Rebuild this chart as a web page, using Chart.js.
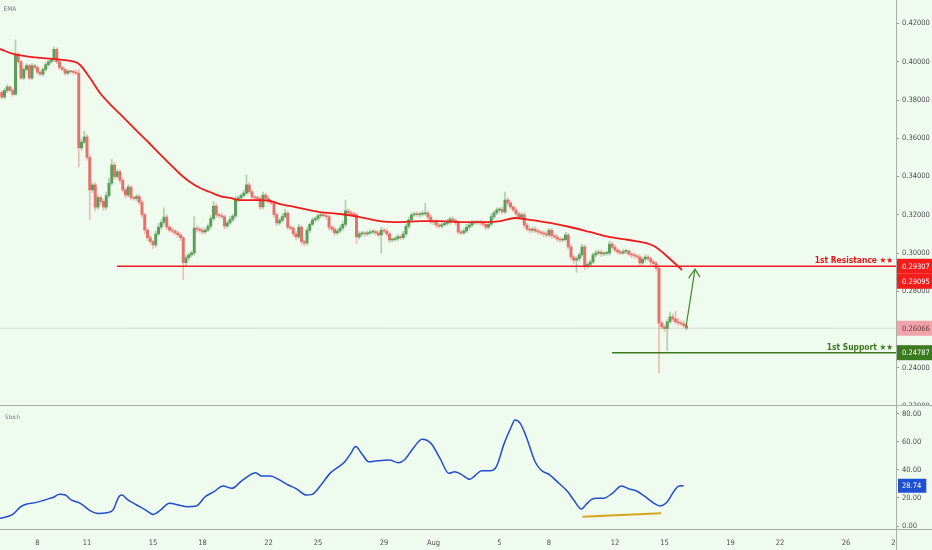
<!DOCTYPE html>
<html>
<head>
<meta charset="utf-8">
<script src="https://cdn.jsdelivr.net/npm/chart.js@4.4.1/dist/chart.umd.min.js"></script>
<style>
	html, body { margin: 0; padding: 0; background: #f0fbf0; }
	#wrap { position: relative; width: 932px; height: 550px; overflow: hidden; }
	#main { position: absolute; left: 0; top: 0; }
	#osc { position: absolute; left: 0; top: 406px; }
</style>
</head>
<body>
<div id="wrap">
	<canvas id="main" width="932" height="406"></canvas>
	<canvas id="osc" width="932" height="144"></canvas>
</div>
<script>
// time is counted in days of July (1 Aug = 32), bars are 4h
const barStart = 5 + 20 / 24;
const barHours = 4;
const firstOpen = 0.3840;

const closes = [
	0.3815,0.3850,0.3868,0.3850,0.3830,0.4040,0.4000,0.3915,0.3960,0.3980,
	0.3915,0.3980,0.3970,0.3945,0.3935,0.3960,0.3985,0.4000,0.4010,0.4065,
	0.4000,0.3970,0.3960,0.3940,0.3950,0.3948,0.3945,0.3940,0.3550,0.3580,
	0.3607,0.3500,0.3330,0.3356,0.3240,0.3290,0.3270,0.3240,0.3300,0.3365,
	0.3460,0.3400,0.3425,0.3380,0.3330,0.3303,0.3345,0.3290,0.3285,0.3295,
	0.3265,0.3200,0.3120,0.3080,0.3060,0.3042,0.3100,0.3135,0.3160,0.3188,
	0.3135,0.3120,0.3115,0.3105,0.3095,0.3080,0.2950,0.2975,0.2990,0.3000,
	0.3130,0.3125,0.3118,0.3110,0.3120,0.3140,0.3180,0.3245,0.3200,0.3195,
	0.3190,0.3141,0.3157,0.3175,0.3193,0.3282,0.3288,0.3300,0.3314,0.3356,
	0.3320,0.3293,0.3288,0.3285,0.3241,0.3303,0.3285,0.3270,0.3262,0.3200,
	0.3157,0.3170,0.3190,0.3209,0.3135,0.3130,0.3100,0.3084,0.3135,0.3060,
	0.3052,0.3119,0.3150,0.3173,0.3180,0.3195,0.3199,0.3195,0.3190,0.3135,
	0.3125,0.3105,0.3115,0.3130,0.3150,0.3220,0.3210,0.3205,0.3200,0.3084,
	0.3100,0.3105,0.3100,0.3105,0.3110,0.3112,0.3105,0.3094,0.3119,0.3115,
	0.3100,0.3068,0.3070,0.3075,0.3085,0.3080,0.3100,0.3140,0.3173,0.3199,
	0.3205,0.3200,0.3203,0.3205,0.3209,0.3188,0.3162,0.3165,0.3146,0.3140,
	0.3148,0.3155,0.3162,0.3178,0.3170,0.3160,0.3110,0.3105,0.3115,0.3135,
	0.3146,0.3157,0.3160,0.3162,0.3158,0.3150,0.3135,0.3150,0.3190,0.3210,
	0.3225,0.3228,0.3215,0.3277,0.3262,0.3241,0.3225,0.3205,0.3188,0.3200,
	0.3146,0.3125,0.3119,0.3125,0.3115,0.3110,0.3105,0.3100,0.3094,0.3119,
	0.3090,0.3084,0.3073,0.3068,0.3070,0.3094,0.3032,0.2979,0.2963,0.2970,
	0.2990,0.3032,0.2932,0.2940,0.2953,0.2990,0.3000,0.3005,0.2995,0.2998,
	0.3000,0.3047,0.3030,0.3015,0.3005,0.3000,0.3008,0.3010,0.2995,0.2990,
	0.2985,0.2980,0.2948,0.2968,0.2979,0.2970,0.2953,0.2945,0.2920,0.2634,
	0.2614,0.2605,0.2640,0.2666,0.2655,0.2640,0.2634,0.2630,0.2620,0.2607
];
// wick length above / below the body, in 0.0001
const wickTop = [
	8,10,12,6,8,74,10,8,12,10, 6,10,8,8,6,10,12,8,10,12,
	8,10,6,8,10,6,8,10,20,15, 30,12,15,10,12,14,10,12,18,25,
	30,15,12,10,14,10,12,8,10,12, 10,12,8,10,12,8,15,20,14,47,
	12,10,15,8,10,12,10,15,12,10, 60,12,10,14,10,12,15,25,12,10,
	14,10,12,15,10,14,12,10,15,52, 12,10,8,10,12,15,10,12,10,8,
	10,12,15,20,10,8,10,12,15,10, 8,14,10,12,10,8,10,12,10,8,
	10,12,10,14,15,57,10,12,10,8, 12,10,8,10,12,10,8,10,15,10,
	12,10,8,10,12,10,14,12,15,12, 10,12,10,14,50,10,12,8,10,12,
	10,12,14,10,12,10,8,10,12,15, 10,12,10,8,10,12,10,12,15,10,
	12,10,14,42,12,10,8,12,10,10, 12,10,8,10,12,10,8,10,12,10,
	10,8,12,10,8,14,10,12,8,10, 12,14,10,8,12,10,14,10,12,8,
	10,15,10,12,8,10,12,10,8,10, 10,8,12,10,12,10,8,10,12,15,
	10,8,12,25,15,40,20,12,15,10
];
const wickBottom = [
	10,8,12,8,10,5,12,8,10,8, 10,8,10,12,8,10,8,10,8,10,
	10,12,8,10,8,10,12,8,100,12, 10,15,157,15,20,12,15,18,12,10,
	12,15,10,14,12,15,10,12,10,14, 12,15,20,15,12,18,12,10,12,10,
	14,10,12,10,12,15,90,15,12,10, 12,14,10,12,10,8,12,10,14,10,
	12,15,10,8,12,10,12,10,8,10, 10,12,10,8,15,10,12,10,8,14,
	15,10,8,10,12,10,14,15,10,18, 15,10,12,8,10,12,10,8,12,14,
	10,12,10,8,10,12,10,8,12,35, 12,10,14,10,8,10,12,10,95,10,
	12,14,10,8,12,10,8,10,12,10, 8,10,12,10,8,12,10,14,12,10,
	10,8,10,12,10,14,12,10,8,10, 12,10,8,10,12,10,14,10,8,12,
	10,12,10,8,14,12,10,12,10,8, 12,10,14,10,8,12,10,14,12,10,
	12,10,14,12,10,8,12,15,18,63, 12,10,20,12,10,8,12,10,14,10,
	10,12,10,8,12,10,8,12,10,14, 12,10,18,10,12,10,14,12,15,261,
	12,15,115,10,12,10,14,10,12,10
];

const emaDays = [5.73,6.52,8.15,9.06,9.67,10.27,10.58,11.18,11.79,12.39,13.00,13.61,14.21,14.82,15.42,16.03,16.64,17.24,17.85,18.45,19.06,19.67,20.27,20.88,21.48,22.09,22.70,23.30,23.91,25.12,26.33,27.55,28.76,29.97,31.18,32.39,33.61,34.82,36.03,36.94,37.85,39.06,40.27,41.48,42.64,43.85,45.36,46.27,47.06];
const emaValues = [0.4067,0.4041,0.4020,0.4014,0.4009,0.3999,0.3983,0.3915,0.3837,0.3779,0.3727,0.3674,0.3622,0.3570,0.3517,0.3465,0.3413,0.3371,0.3340,0.3319,0.3298,0.3288,0.3277,0.3277,0.3277,0.3272,0.3256,0.3246,0.3235,0.3214,0.3204,0.3188,0.3167,0.3162,0.3167,0.3167,0.3162,0.3162,0.3167,0.3183,0.3173,0.3157,0.3136,0.3110,0.3084,0.3068,0.3037,0.2974,0.2911];

const stochDays = [5.727,6.448,6.988,7.352,7.891,8.430,8.970,9.333,9.691,10.048,10.594,11.133,11.673,12.212,12.576,12.933,13.115,13.473,14.012,14.558,15.024,15.455,15.994,16.539,17.079,17.618,18.158,18.697,19.242,19.782,20.321,20.861,21.218,21.582,22.121,22.661,23.200,23.745,24.285,24.642,25.182,25.727,26.267,26.624,26.988,27.273,27.709,28.067,28.606,29.327,29.867,30.230,30.770,31.309,31.848,32.394,32.933,33.291,33.655,34.194,34.552,34.915,35.455,35.812,36.285,36.715,36.933,37.255,37.618,38.158,38.515,39.055,39.600,40.139,40.497,40.970,41.218,41.582,41.939,42.297,42.842,43.382,43.921,44.279,44.824,45.364,45.721,46.085,46.624,46.806,47.164];
const stochValues = [5.5,7.9,13.8,15.7,16.7,18.6,20.5,22.6,22.1,18.6,16.2,11.4,9.0,9.5,11.4,20.9,22.1,18.6,15.0,11.4,8.3,11.4,16.2,15.0,13.8,14.3,20.9,24.5,28.6,26.9,31.7,36.4,38.1,35.7,35.7,32.9,29.3,26.2,22.1,22.6,29.3,37.6,42.4,45.9,51.9,56.7,50.7,45.9,46.6,47.1,45.2,47.1,55.5,61.9,59.0,48.3,37.6,38.8,37.1,33.3,36.4,39.5,39.5,42.4,59.0,70.9,75.7,73.3,63.8,45.9,40.0,36.4,30.5,24.5,18.6,12.1,15.0,19.0,19.8,19.8,23.3,28.6,26.2,25.2,20.9,16.2,14.3,16.2,25.7,28.1,28.8];

const priceTicks = [0.22,0.24,0.26,0.28,0.30,0.32,0.34,0.36,0.38,0.40,0.42];
const stochTicks = [0,20,40,60,80];
const dateTicks = [8,11,15,18,22,25,29,32,36,39,43,46,50,53,57,60];
const dateLabels = ['8','11','15','18','22','25','29','Aug','5','8','12','15','19','22','26','29'];

const resistance = 0.29307, resistanceFrom = 12.82;
const support = 0.24787, supportFrom = 42.82;
const lastPrice = 0.26066;
const levelNames = ['1st Resistance ★★', '1st Support ★★'];
const levelValues = [resistance, support];
const tagValues = [0.29307, 0.29095, 0.26066, 0.24787];
const stochLast = 28.74;

const arrowDays = [47.30, 47.85];
const arrowPrices = [0.2613, 0.2916];
const arrowHeadDays = [47.46, 47.85, 48.15];
const arrowHeadPrices = [0.2869, 0.2916, 0.2874];
const divergenceDays = [41.03, 45.79];
const divergenceValues = [6.6, 9.1];

const dayMin = 5.727, dayMax = 60.03;

const BG = '#f0fbf0';
const FONT = "'DejaVu Sans Condensed', 'DejaVu Sans', sans-serif";
const UP = '#5b9f5b', DOWN = '#e5716b';
const UP_WICK = 'rgba(91,159,91,0.45)', DOWN_WICK = 'rgba(229,113,107,0.45)';

const opens = closes.map((c, i) => i === 0 ? firstOpen : closes[i - 1]);
const times = closes.map((c, i) => barStart + i * barHours / 24);
const isUp = closes.map((c, i) => c >= opens[i]);
const highs = closes.map((c, i) => Math.max(opens[i], c) + wickTop[i] / 10000);
const lows = closes.map((c, i) => Math.min(opens[i], c) - wickBottom[i] / 10000);

const pts = (xs, ys) => xs.map((x, i) => ({x: x, y: ys[i]}));

const rightAxisWidth = 36;

const mainDecor = {
	id: 'mainDecor',
	afterDraw(chart) {
		const {ctx, chartArea: area} = chart;
		const y = chart.scales.y;
		ctx.save();
		// separator between panels
		ctx.strokeStyle = '#a9b0a9';
		ctx.lineWidth = 1;
		ctx.beginPath();
		ctx.moveTo(0, area.bottom - 0.5);
		ctx.lineTo(chart.width, area.bottom - 0.5);
		ctx.stroke();

		ctx.fillStyle = '#777';
		ctx.font = '6.5px ' + FONT;
		ctx.textBaseline = 'middle';
		ctx.textAlign = 'left';
		ctx.fillText('EMA', 3.5, 9.5);

		const levelColors = ['#e8161b', '#3b7a1f'];
		ctx.font = 'bold 8.4px ' + FONT;
		ctx.textAlign = 'right';
		ctx.textBaseline = 'alphabetic';
		levelNames.forEach((name, k) => {
			ctx.fillStyle = levelColors[k];
			ctx.fillText(name, area.right - 3, y.getPixelForValue(levelValues[k]) - 3);
		});

		// price tags on the axis
		const tagBg = ['#f51c1c', '#f51c1c', '#f2a3aa', '#3b7a1f'];
		const tagFg = ['#ffffff', '#ffffff', '#5b3b3b', '#ffffff'];
		const h = 15;
		let lastBottom = -Infinity;
		ctx.font = '7.5px ' + FONT;
		ctx.textAlign = 'left';
		ctx.textBaseline = 'middle';
		tagValues.forEach((v, k) => {
			let cy = y.getPixelForValue(v);
			if (cy - h / 2 < lastBottom) cy = lastBottom + h / 2;
			ctx.fillStyle = tagBg[k];
			ctx.fillRect(area.right + 1, cy - h / 2, chart.width - area.right - 1, h);
			ctx.fillStyle = tagFg[k];
			ctx.fillText(v.toFixed(5), area.right + 6, cy + 0.5);
			lastBottom = cy + h / 2;
		});
		ctx.restore();
	}
};

const oscDecor = {
	id: 'oscDecor',
	afterDraw(chart) {
		const {ctx, chartArea: area} = chart;
		const y = chart.scales.y;
		ctx.save();
		// the last date label is cut by the price axis
		ctx.fillStyle = BG;
		ctx.fillRect(area.right + 1, area.bottom + 2, chart.width - area.right, chart.height - area.bottom);
		ctx.strokeStyle = '#a9b0a9';
		ctx.lineWidth = 1;
		ctx.beginPath();
		ctx.moveTo(0, area.bottom + 0.5);
		ctx.lineTo(chart.width, area.bottom + 0.5);
		ctx.moveTo(area.right + 0.5, area.bottom);
		ctx.lineTo(area.right + 0.5, chart.height);
		ctx.stroke();

		ctx.fillStyle = '#777';
		ctx.font = '6px ' + FONT;
		ctx.textBaseline = 'middle';
		ctx.textAlign = 'left';
		ctx.fillText('Stoch', 5, 11);

		ctx.font = '7.5px ' + FONT;
		const label = stochLast.toFixed(2);
		const w = ctx.measureText(label).width + 9;
		const cy = y.getPixelForValue(stochLast);
		ctx.fillStyle = '#1f50d4';
		ctx.fillRect(area.right + 2, cy - 7, w, 14);
		ctx.fillStyle = '#ffffff';
		ctx.fillText(label, area.right + 6, cy + 0.5);
		ctx.restore();
	}
};

function rightAxis(min, max, ticks, digits) {
	return {
		position: 'right',
		min: min,
		max: max,
		afterBuildTicks(scale) {
			scale.ticks = ticks.map(v => ({value: v}));
		},
		afterFit(scale) {
			scale.width = rightAxisWidth;
			scale.paddingTop = 0;
			scale.paddingBottom = 0;
		},
		ticks: {
			callback: v => Number(v).toFixed(digits),
			color: '#4e4e4e',
			font: {family: FONT, size: 7.5},
			padding: 3,
			autoSkip: false
		},
		grid: {drawOnChartArea: false, tickLength: 3, color: '#9a9a9a'},
		border: {color: '#a9b0a9'}
	};
}

new Chart(document.getElementById('main'), {
	type: 'bar',
	data: {
		datasets: [
			{
				label: 'wicks',
				data: times.map((t, i) => ({x: t, y: [lows[i], highs[i]]})),
				backgroundColor: c => isUp[c.dataIndex] ? UP_WICK : DOWN_WICK,
				barThickness: 1,
				grouped: false,
				order: 10
			},
			{
				label: 'bodies',
				data: times.map((t, i) => ({x: t, y: [opens[i], closes[i]]})),
				backgroundColor: c => isUp[c.dataIndex] ? UP : DOWN,
				barThickness: 2.3,
				minBarLength: 1,
				grouped: false,
				order: 9
			},
			{
				type: 'line',
				label: 'last',
				data: [{x: dayMin, y: lastPrice}, {x: dayMax, y: lastPrice}],
				borderColor: 'rgba(150,160,150,0.35)',
				borderWidth: 1,
				pointRadius: 0,
				order: 8
			},
			{
				type: 'line',
				label: 'EMA',
				data: pts(emaDays, emaValues),
				borderColor: '#f01c1c',
				borderWidth: 1.8,
				pointRadius: 0,
				cubicInterpolationMode: 'monotone',
				order: 3
			},
			{
				type: 'line',
				label: 'resistance',
				data: [{x: resistanceFrom, y: resistance}, {x: dayMax, y: resistance}],
				borderColor: '#f01c1c',
				borderWidth: 1.6,
				pointRadius: 0,
				order: 2
			},
			{
				type: 'line',
				label: 'support',
				data: [{x: supportFrom, y: support}, {x: dayMax, y: support}],
				borderColor: '#3b7a1f',
				borderWidth: 1.6,
				pointRadius: 0,
				order: 2
			},
			{
				type: 'line',
				label: 'arrow',
				data: pts(arrowDays, arrowPrices),
				borderColor: '#3f8a26',
				borderWidth: 1.2,
				pointRadius: 0,
				order: 1
			},
			{
				type: 'line',
				label: 'arrow head',
				data: pts(arrowHeadDays, arrowHeadPrices),
				borderColor: '#3f8a26',
				borderWidth: 1.2,
				pointRadius: 0,
				order: 1
			}
		]
	},
	options: {
		responsive: false,
		animation: false,
		events: [],
		layout: {padding: 0},
		plugins: {legend: {display: false}, tooltip: {enabled: false}},
		scales: {
			x: {type: 'linear', min: dayMin, max: dayMax, offset: false, display: false},
			y: rightAxis(0.22, 0.4323, priceTicks, 5)
		}
	},
	plugins: [mainDecor]
});

new Chart(document.getElementById('osc'), {
	type: 'line',
	data: {
		datasets: [
			{
				label: 'Stoch',
				data: pts(stochDays, stochValues),
				borderColor: '#1f4fcc',
				borderWidth: 1.5,
				pointRadius: 0,
				cubicInterpolationMode: 'monotone'
			},
			{
				label: 'divergence',
				data: pts(divergenceDays, divergenceValues),
				borderColor: '#d6a21f',
				borderWidth: 2,
				pointRadius: 0
			}
		]
	},
	options: {
		responsive: false,
		animation: false,
		events: [],
		layout: {padding: 0},
		plugins: {legend: {display: false}, tooltip: {enabled: false}},
		scales: {
			x: {
				type: 'linear',
				min: dayMin,
				max: dayMax,
				offset: false,
				afterBuildTicks(scale) {
					scale.ticks = dateTicks.map(v => ({value: v}));
				},
				afterFit(scale) {
					scale.height = 21;
					scale.paddingLeft = 0;
					scale.paddingRight = 0;
				},
				ticks: {
					callback: v => dateLabels[dateTicks.indexOf(v)],
					color: '#4e4e4e',
					font: {family: FONT, size: 7.5},
					maxRotation: 0,
					autoSkip: false,
					padding: 2
				},
				grid: {display: false},
				border: {display: false}
			},
			y: rightAxis(-2.14, 85.7, stochTicks, 2)
		}
	},
	plugins: [oscDecor]
});
</script>
</body>
</html>
